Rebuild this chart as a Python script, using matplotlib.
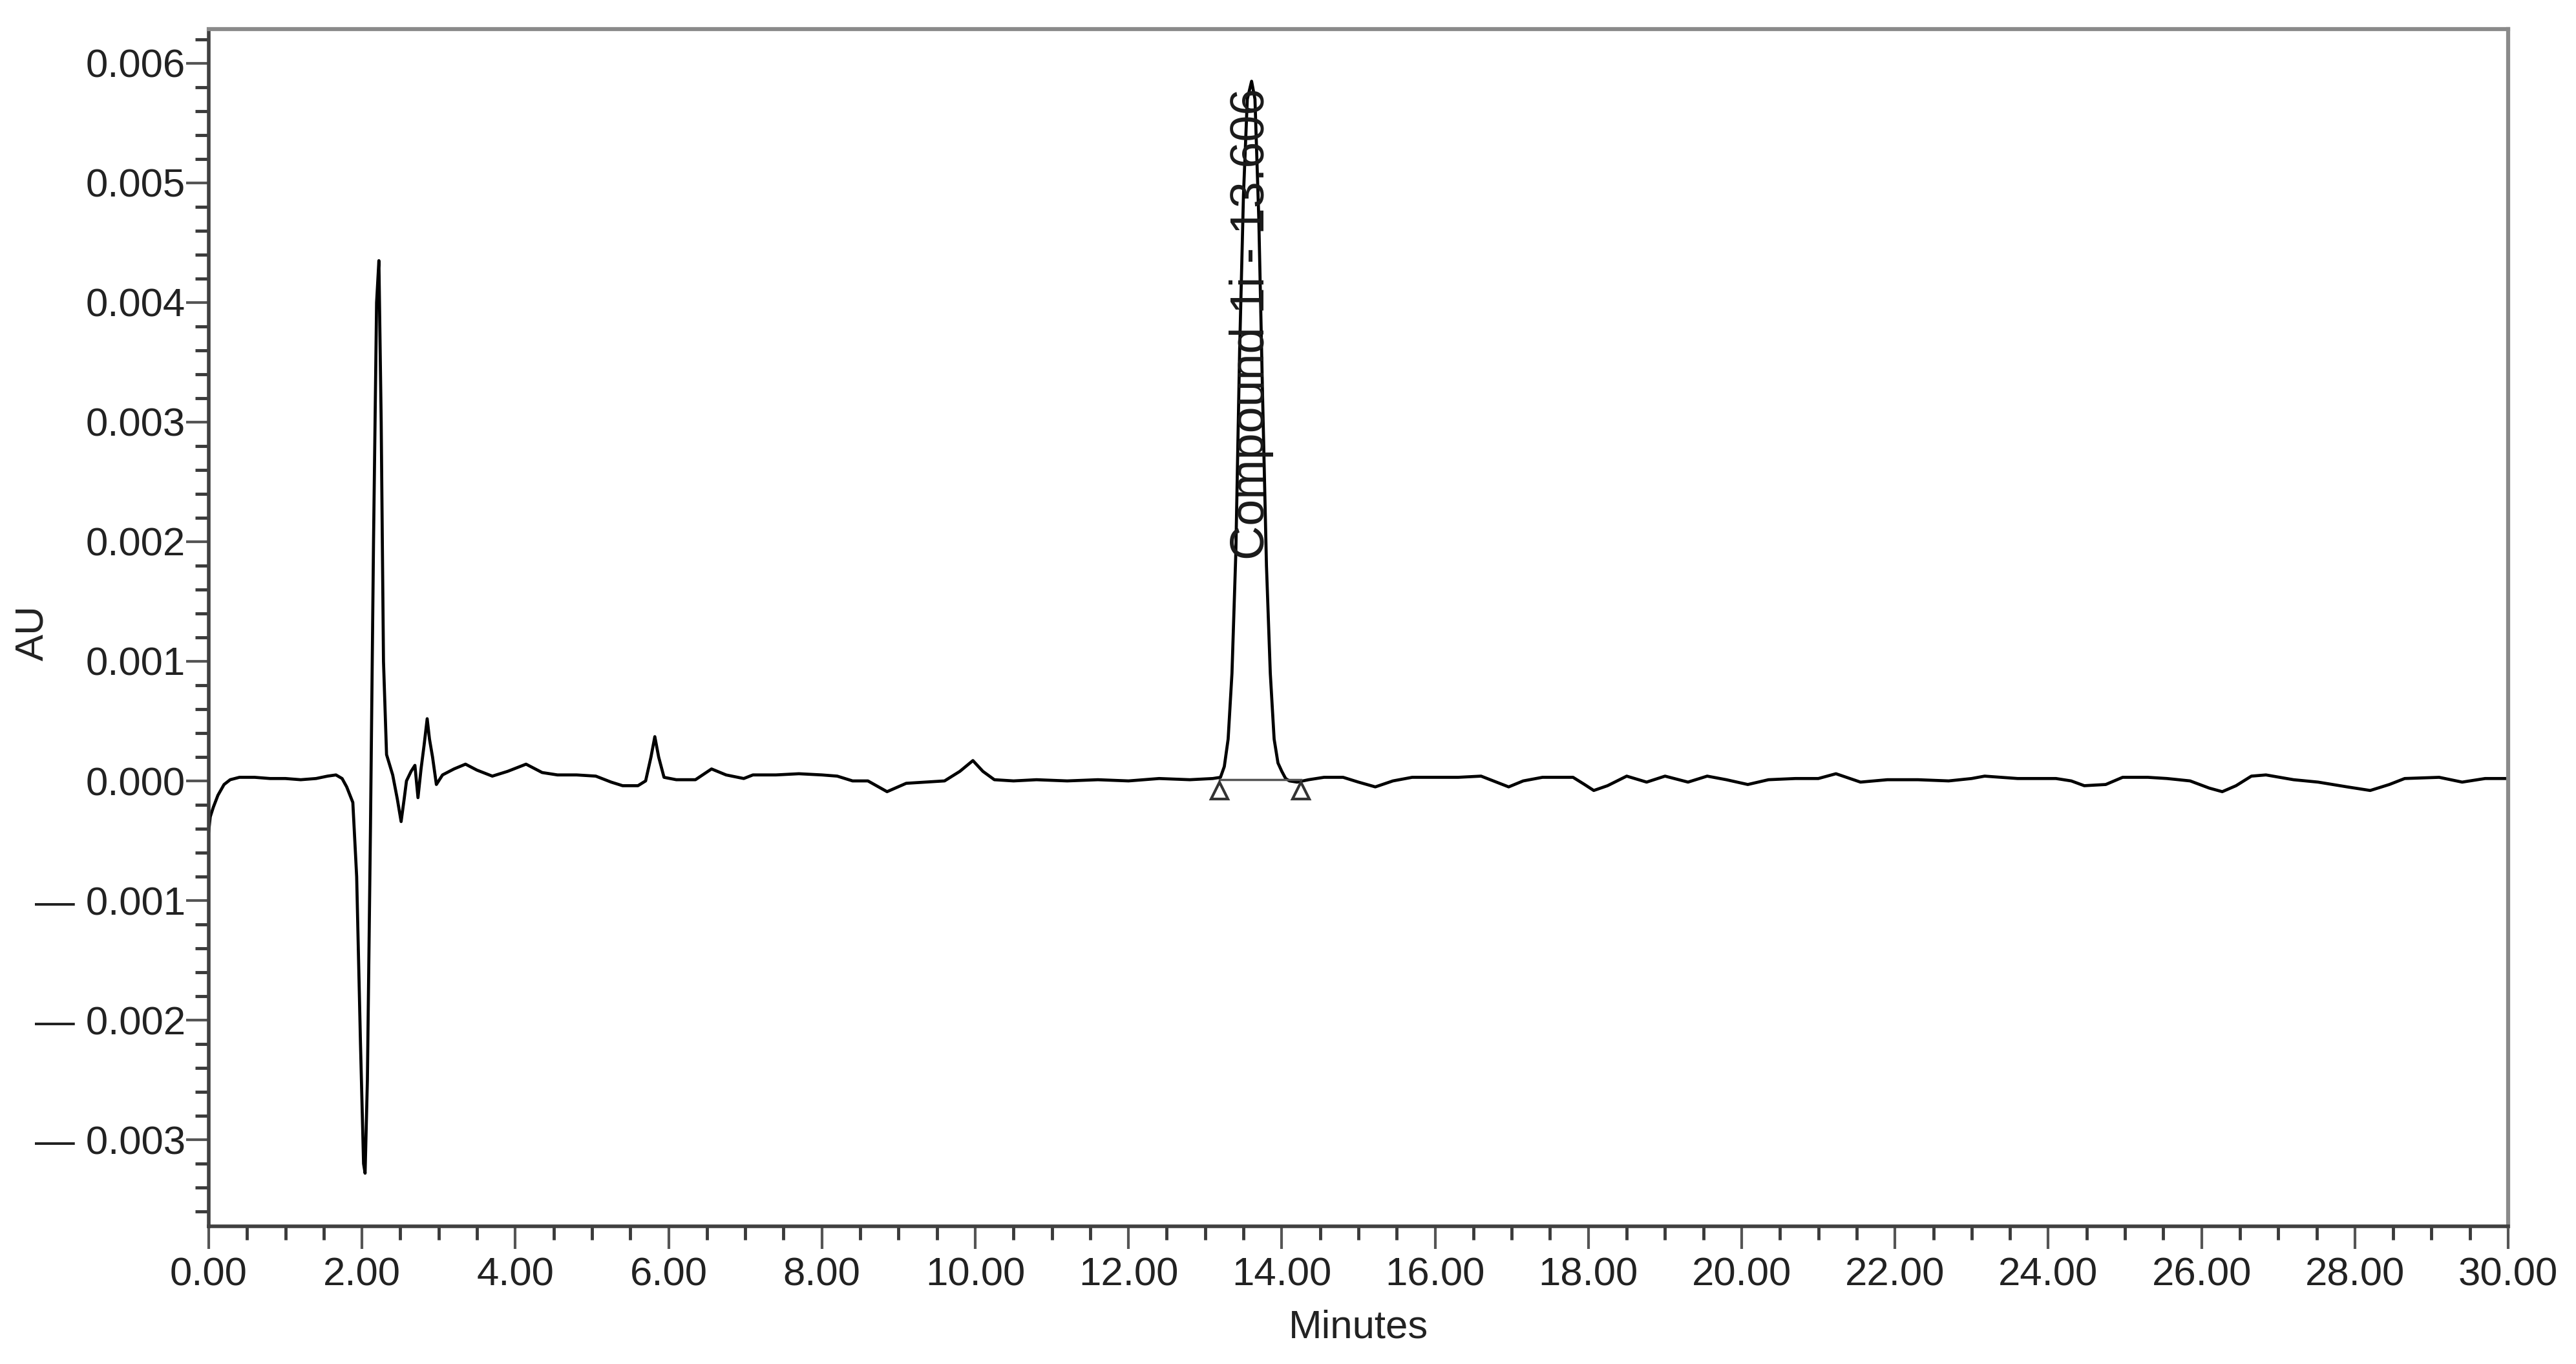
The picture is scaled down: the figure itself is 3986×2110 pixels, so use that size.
import numpy as np
import matplotlib
matplotlib.use("Agg")
import matplotlib.pyplot as plt
from matplotlib.ticker import MultipleLocator, FuncFormatter

plt.rcParams["font.family"] = ["Liberation Sans", "DejaVu Sans"]

# chromatogram trace (minutes, AU)
minutes = [0.00, 0.02, 0.06, 0.12, 0.20, 0.28, 0.40, 0.60, 0.80, 1.00, 1.20, 1.40, 1.55, 1.66, 1.74,
           1.80, 1.88, 1.93, 1.98, 2.02, 2.04, 2.07, 2.11, 2.15, 2.19, 2.22, 2.25, 2.28, 2.32, 2.40,
           2.46, 2.51, 2.55, 2.58, 2.64, 2.69, 2.73, 2.77, 2.81, 2.85, 2.88, 2.92, 2.97, 3.05, 3.20,
           3.35, 3.50, 3.70, 3.90, 4.14, 4.35, 4.55, 4.80, 5.05, 5.25, 5.40, 5.60, 5.70, 5.77, 5.82,
           5.87, 5.94, 6.10, 6.35, 6.56, 6.75, 6.98, 7.10, 7.40, 7.70, 8.00, 8.20, 8.40, 8.60, 8.85,
           9.10, 9.35, 9.60, 9.80, 9.97, 10.10, 10.25, 10.50, 10.80, 11.20, 11.60, 12.00, 12.40, 12.80,
           13.10, 13.20, 13.25, 13.30, 13.35, 13.40, 13.45, 13.50, 13.55, 13.606, 13.65, 13.70, 13.75,
           13.80, 13.85, 13.90, 13.95, 14.00, 14.05, 14.10, 14.20, 14.35, 14.55, 14.80, 15.00, 15.22,
           15.45, 15.70, 16.00, 16.30, 16.60, 16.80, 16.96, 17.15, 17.40, 17.80, 17.95, 18.07, 18.25,
           18.50, 18.76, 19.00, 19.30, 19.55, 19.80, 20.08, 20.35, 20.70, 21.00, 21.23, 21.55, 21.90,
           22.30, 22.70, 23.00, 23.17, 23.60, 24.10, 24.30, 24.47, 24.75, 24.97, 25.30, 25.55, 25.85,
           26.10, 26.27, 26.45, 26.65, 26.84, 27.20, 27.52, 27.90, 28.20, 28.45, 28.65, 29.10, 29.40,
           29.70, 30.00]
au = [-0.00042, -0.00030, -0.00022, -0.00012, -0.00003, 0.00001, 0.00003, 0.00003, 0.00002, 0.00002,
      0.00001, 0.00002, 0.00004, 0.00005, 0.00002, -0.00005, -0.00018, -0.00080, -0.00220, -0.00320,
      -0.00328, -0.00250, -0.00040, 0.00200, 0.00400, 0.00435, 0.00300, 0.00100, 0.00022, 0.00005,
      -0.00015, -0.00034, -0.00015, 0.00000, 0.00008, 0.00013, -0.00014, 0.00010, 0.00030, 0.00052,
      0.00035, 0.00020, -0.00003, 0.00005, 0.00010, 0.00014, 0.00009, 0.00004, 0.00008, 0.00014,
      0.00007, 0.00005, 0.00005, 0.00004, -0.00001, -0.00004, -0.00004, 0.00000, 0.00020, 0.00037,
      0.00020, 0.00003, 0.00001, 0.00001, 0.00010, 0.00005, 0.00002, 0.00005, 0.00005, 0.00006,
      0.00005, 0.00004, 0.00000, 0.00000, -0.00009, -0.00002, -0.00001, 0.00000, 0.00008, 0.00017,
      0.00008, 0.00001, 0.00000, 0.00001, 0.00000, 0.00001, 0.00000, 0.00002, 0.00001, 0.00002,
      0.00003, 0.00012, 0.00035, 0.00090, 0.00190, 0.00360, 0.00490, 0.00570, 0.00585, 0.00570,
      0.00470, 0.00320, 0.00180, 0.00090, 0.00035, 0.00015, 0.00008, 0.00002, 0.00000, -0.00001,
      0.00001, 0.00003, 0.00003, -0.00001, -0.00005, 0.00000, 0.00003, 0.00003, 0.00003, 0.00004,
      -0.00001, -0.00005, 0.00000, 0.00003, 0.00003, -0.00003, -0.00008, -0.00004, 0.00004, -0.00001,
      0.00004, -0.00001, 0.00004, 0.00001, -0.00003, 0.00001, 0.00002, 0.00002, 0.00006, -0.00001,
      0.00001, 0.00001, 0.00000, 0.00002, 0.00004, 0.00002, 0.00002, 0.00000, -0.00004, -0.00003,
      0.00003, 0.00003, 0.00002, 0.00000, -0.00006, -0.00009, -0.00004, 0.00004, 0.00005, 0.00001,
      -0.00001, -0.00005, -0.00008, -0.00003, 0.00002, 0.00003, -0.00001, 0.00002, 0.00002]

# integration baseline of the labelled peak
peak_start = 13.19
peak_end = 14.25
baseline_au = 0.00001
peak_rt = 13.606
peak_label = "Compound 1i - 13.606"

fs = 44.5

fig = plt.figure(figsize=(39.86, 21.10), dpi=100)
ax = fig.add_axes([0.08103, 0.10095, 0.89263, 0.87772])

ax.plot(minutes, au, color="black", lw=3.4, solid_joinstyle="round")
ax.plot([peak_start, peak_end], [baseline_au, baseline_au], color="#555555", lw=2.5)
ax.plot([peak_start, peak_end], [-0.00008, -0.00008], ls="none", marker="^", ms=19,
        mfc="none", mec="#333333", mew=3)

ax.text(peak_rt, 0.00185, peak_label, rotation=90, ha="center", va="bottom",
        fontsize=53, color="#1a1a1a")

ax.set_xlim(0, 30)
ax.set_ylim(-0.003724, 0.006286)

ax.xaxis.set_major_locator(MultipleLocator(2))
ax.xaxis.set_minor_locator(MultipleLocator(0.5))
ax.yaxis.set_major_locator(MultipleLocator(0.001))
ax.yaxis.set_minor_locator(MultipleLocator(0.0002))

ax.xaxis.set_major_formatter(FuncFormatter(lambda v, p: "%.2f" % v))


def yfmt(v, p):
    if v < -1e-9:
        return "\u2014 %.3f" % abs(v)
    return "%.3f" % abs(v)


ax.yaxis.set_major_formatter(FuncFormatter(yfmt))

ax.tick_params(axis="both", which="major", direction="out", length=25, width=3,
               color="#555555", labelsize=fs, labelcolor="#222222")
ax.tick_params(axis="both", which="minor", direction="out", length=15, width=3.5,
               color="#3a3a3a")
ax.tick_params(axis="y", which="major", pad=1)
ax.tick_params(axis="x", which="major", pad=9)

for side in ["left", "bottom"]:
    ax.spines[side].set_color("#404040")
    ax.spines[side].set_linewidth(4)
for side in ["top", "right"]:
    ax.spines[side].set_color("#8a8a8a")
    ax.spines[side].set_linewidth(4.5)

ax.set_xlabel("Minutes", fontsize=fs, color="#222222", va="center")
ax.xaxis.set_label_coords(0.5, -0.0848)
ax.set_ylabel("AU", fontsize=fs, color="#222222", va="center")
ax.yaxis.set_label_coords(-0.0764, 0.4957)

plt.savefig("out.png", dpi=100)
plt.close()
